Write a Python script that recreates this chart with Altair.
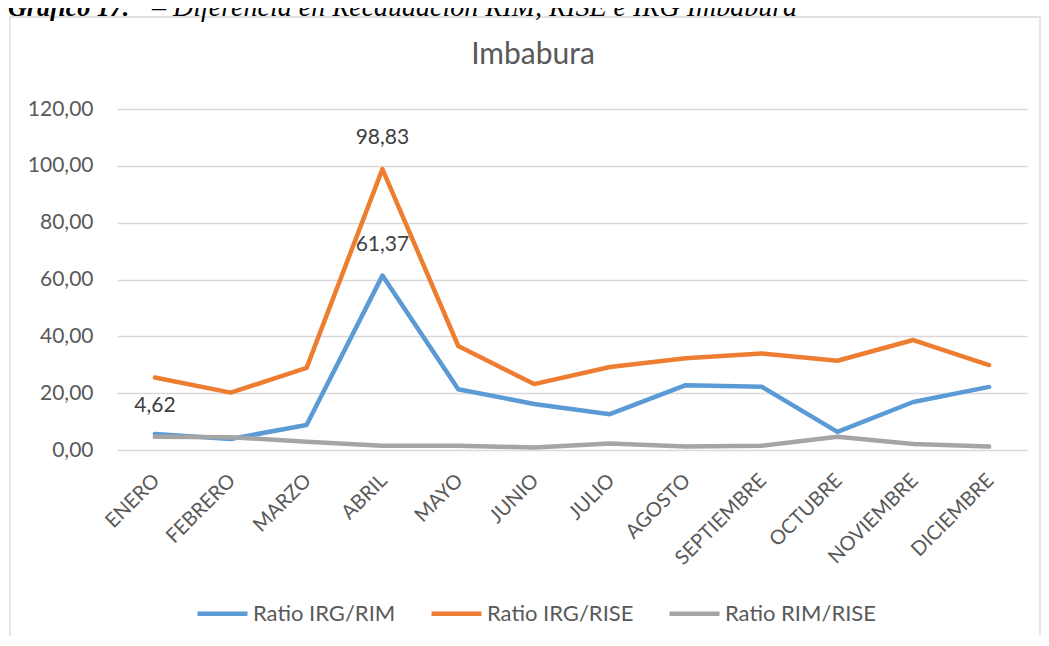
import altair as alt
import pandas as pd

months = ["ENERO", "FEBRERO", "MARZO", "ABRIL", "MAYO", "JUNIO", "JULIO",
          "AGOSTO", "SEPTIEMBRE", "OCTUBRE", "NOVIEMBRE", "DICIEMBRE"]
series_names = ["Ratio IRG/RIM", "Ratio IRG/RISE", "Ratio RIM/RISE"]
irg_rim = [5.6, 3.9, 8.8, 61.37, 21.4, 16.2, 12.6, 22.8, 22.3, 6.4, 16.9, 22.2]
irg_rise = [25.5, 20.2, 28.9, 98.83, 36.6, 23.2, 29.2, 32.3, 34.0, 31.4, 38.7, 29.9]
rim_rise = [4.62, 4.5, 2.9, 1.5, 1.5, 0.9, 2.3, 1.2, 1.5, 4.7, 2.1, 1.2]
colors = ["#5B9BD5", "#ED7D31", "#A5A5A5"]
y_ticks = [0, 20, 40, 60, 80, 100, 120]
# data labels shown in the chart: (series, month)
labelled = [("Ratio IRG/RISE", "ABRIL"), ("Ratio IRG/RIM", "ABRIL"), ("Ratio RIM/RISE", "ENERO")]

chart_title = "Imbabura"
caption_bold = "Gráfico 17."
caption_rest = "– Diferencia en Recaudación RIM, RISE e IRG Imbabura"

rows = []
for name, vals in zip(series_names, [irg_rim, irg_rise, rim_rise]):
    for m, v in zip(months, vals):
        rows.append({"mes": m, "serie": name, "valor": v,
                     "etiqueta": f"{v:.2f}".replace(".", ","),
                     "mostrar": (name, m) in labelled})
df = pd.DataFrame(rows)

FONT = "Lato"
GREY = "#595959"

x_enc = alt.X("mes:N", sort=months, title=None,
              axis=alt.Axis(labelAngle=-45, labelFontSize=20, labelFont=FONT,
                            labelColor=GREY, ticks=False, domain=False,
                            labelPadding=20, labelOffset=-6, grid=False))
y_enc = alt.Y("valor:Q", title=None,
              scale=alt.Scale(domain=[0, 120], nice=False),
              axis=alt.Axis(values=y_ticks, labelFontSize=21, labelFont=FONT,
                            labelColor=GREY, ticks=False, domain=False,
                            labelPadding=24, gridColor="#D9D9D9", gridWidth=1.3,
                            labelExpr="replace(format(datum.value, '.2f'), '.', ',')"))

base = alt.Chart(df)

lines = base.mark_line(strokeWidth=4.5, strokeCap="round", strokeJoin="round").encode(
    x=x_enc, y=y_enc,
    color=alt.Color("serie:N", title=None,
                    scale=alt.Scale(domain=series_names, range=colors),
                    legend=alt.Legend(orient="none", direction="horizontal",
                                      legendX=78, legendY=477,
                                      symbolType="stroke", symbolSize=2500,
                                      symbolStrokeWidth=4.5, labelFontSize=22,
                                      labelFont=FONT, labelColor=GREY,
                                      labelOffset=3, columnPadding=26,
                                      labelLimit=300)),
    detail="serie:N",
)

labels = base.transform_filter("datum.mostrar").mark_text(
    font=FONT, fontSize=21, color="#404040", dy=-31
).encode(x=alt.X("mes:N", sort=months), y="valor:Q", text="etiqueta:N")

title_df = pd.DataFrame({"t": [chart_title]})
title = alt.Chart(title_df).mark_text(
    font=FONT, fontSize=30, color=GREY, baseline="middle", align="center"
).encode(x=alt.value(416), y=alt.value(-54), text="t:N")

cap_df1 = pd.DataFrame({"t": [caption_bold]})
cap_df2 = pd.DataFrame({"t": [caption_rest]})
cap1 = alt.Chart(cap_df1).mark_text(
    font="Liberation Serif", fontSize=26, fontStyle="italic", fontWeight="bold",
    color="#000000", align="left", baseline="alphabetic"
).encode(x=alt.value(-109), y=alt.value(-93), text="t:N")
cap2 = alt.Chart(cap_df2).mark_text(
    font="Liberation Serif", fontSize=28, fontStyle="italic",
    color="#000000", align="left", baseline="alphabetic"
).encode(x=alt.value(35), y=alt.value(-93), text="t:N")

frame = alt.Chart(title_df).mark_rect(
    fill="white", fillOpacity=0, stroke="#D9D9D9", strokeWidth=1.3
).encode(x=alt.value(-107), x2=alt.value(923), y=alt.value(-92), y2=alt.value(600))

chart = alt.layer(frame, lines, labels, title, cap1, cap2).properties(
    width=910, height=341,
    autosize=alt.AutoSizeParams(type="none"),
    padding={"left": 109, "top": 101, "right": 14, "bottom": 186},
).configure_view(stroke=None)

chart.save("out.html", embed_options={"renderer": "svg", "actions": False})
